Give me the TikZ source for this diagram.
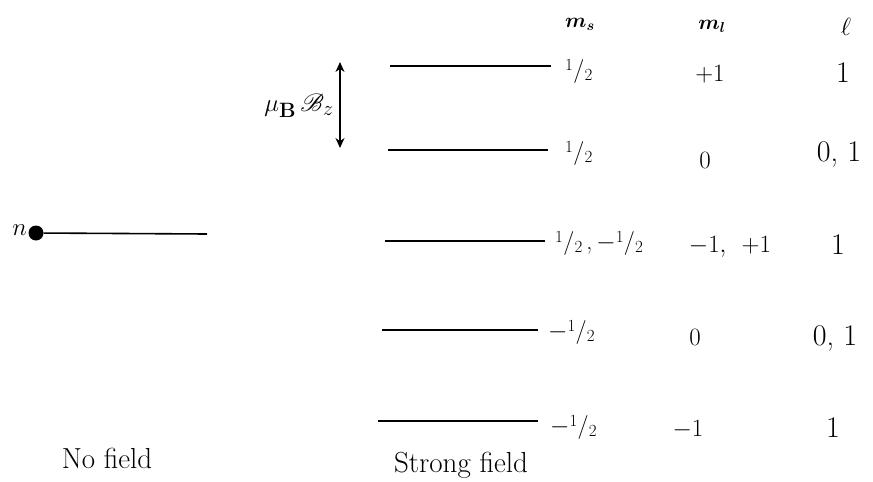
\documentclass[tikz,border=0pt]{standalone}
\usepackage{amsmath}
\usepackage{mathrsfs}
\usetikzlibrary{arrows.meta}
\newcommand{\hf}{\raisebox{0.3em}{\fontsize{17}{18}\selectfont 1}\hspace{0.3pt}{\fontsize{24}{26}\selectfont /}\hspace{0.3pt}\raisebox{-0.12em}{\fontsize{17}{18}\selectfont 2}}
\begin{document}
\begin{tikzpicture}[x=1pt,y=-1pt,
  lvl/.style={line width=1.6pt},
  frac/.style={font=\fontsize{24}{28}\selectfont, inner sep=0pt, anchor=west},
  mlv/.style={font=\fontsize{28}{32}\selectfont, inner sep=0pt},
  elv/.style={font=\fontsize{30}{34}\selectfont, inner sep=0pt},
  hdr/.style={font=\fontsize{22}{26}\selectfont, inner sep=0pt},
  captxt/.style={font=\fontsize{29}{34}\selectfont, inner sep=0pt}]
\useasboundingbox (0,0) rectangle (873,482);
% headers
\node[hdr] (hs) at (580,24) {$\boldsymbol{m_s}$};
\node[hdr] (hl) at (712,26) {$\boldsymbol{m_l}$};
\node[elv,font=\fontsize{34}{38}\selectfont] (hell) at (846,27) {$\ell$};
% no field level
\node[captxt,anchor=east] (n) at (27,230) {$n$};
\node[circle,fill=black,inner sep=0pt,minimum size=15pt] (blob) at (36,233) {};
\coordinate (nf) at (207,234);
\draw[lvl] (blob) -- (nf);
% strong field levels
\coordinate (a1) at (390,66);  \coordinate (b1) at (551,66);
\coordinate (a2) at (388,150); \coordinate (b2) at (548,150);
\coordinate (a3) at (385,241); \coordinate (b3) at (545,241);
\coordinate (a4) at (382,330); \coordinate (b4) at (538,330);
\coordinate (a5) at (378,421); \coordinate (b5) at (538,421);
\foreach \i in {1,...,5} {\draw[lvl] (a\i) -- (b\i);}
% m_s
\node[frac] (s1) at (565,71) {\hf};
\node[frac] (s2) at (565,153) {\hf};
\node[frac] (s3) at (555,243) {\hf\,,\,$-$\hf};
\node[frac] (s4) at (548,332) {$-$\hf};
\node[frac] (s5) at (550,427) {$-$\hf};
% m_l
\node[mlv] (l1) at (710,74) {$+1$};
\node[mlv] (l2) at (705,160) {$0$};
\node[mlv] (l3) at (730,247) {$-1,\;\, +1$};
\node[mlv] (l4) at (695,337) {$0$};
\node[mlv] (l5) at (688,430) {$-1$};
% ell
\node[elv] (e1) at (843,73) {1};
\node[elv] (e2) at (839,154) {0, 1};
\node[elv] (e3) at (838,245) {1};
\node[elv] (e4) at (835,338) {0, 1};
\node[elv] (e5) at (833,428) {1};
% splitting arrow
\coordinate (ut) at (340,62);
\coordinate (ub) at (340,148);
\draw[line width=1.1pt,{Stealth[length=10pt,width=9pt]}-{Stealth[length=10pt,width=9pt]}] (ut) -- (ub);
\node[font=\fontsize{28}{32}\selectfont,inner sep=0pt,anchor=east] (mu) at (334,106) {$\mu_{\mathbf{B}}\,\mathscr{B}_z$};
% captions
\node[captxt] (nof) at (107,458) {No field};
\node[captxt] (sf) at (461,465) {Strong field};
\end{tikzpicture}
\end{document}
